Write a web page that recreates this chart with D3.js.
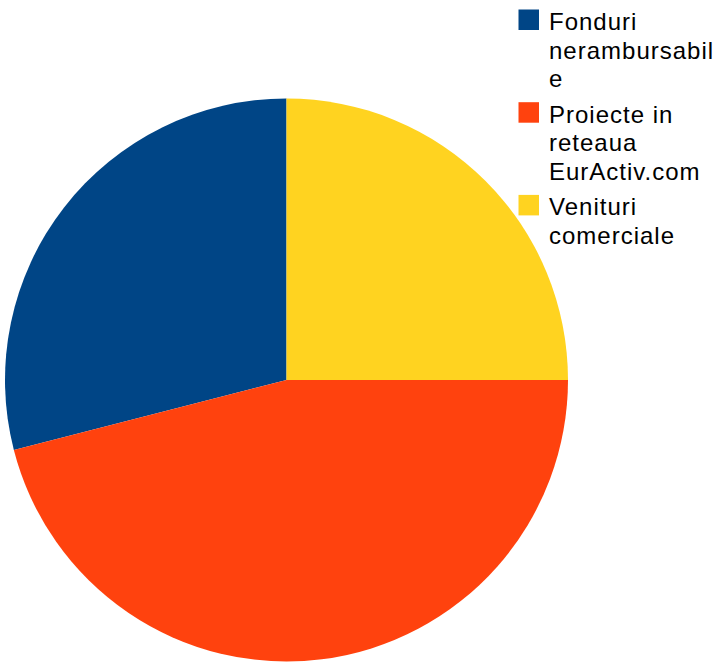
<!DOCTYPE html>
<html><head><meta charset="utf-8">
<script src="https://cdn.jsdelivr.net/npm/d3@7"></script>
<style>body{margin:0;background:#fff}</style>
</head><body>
<svg id="c" width="725" height="664"></svg>
<script>
const categories = ["Fonduri nerambursabile", "Proiecte in reteaua EurActiv.com", "Venituri comerciale"];
const values = [29, 46, 25];
const legendLines = [["Fonduri", "nerambursabil", "e"], ["Proiecte in", "reteaua", "EurActiv.com"], ["Venituri", "comerciale"]];
const colors = ["#004586", "#ff420e", "#ffd320"];

const svg = d3.select("#c");
const cx = 286.5, cy = 380, r = 281.5;
const pie = d3.pie().sort(null).startAngle(0).endAngle(-2 * Math.PI);
const arc = d3.arc().innerRadius(0).outerRadius(r);
const color = d3.scaleOrdinal().domain(categories).range(colors);

svg.append("g").attr("transform", `translate(${cx},${cy})`)
  .selectAll("path").data(pie(values)).join("path")
  .attr("d", arc).attr("fill", (d, i) => color(categories[i]));

const lg = svg.append("g").attr("font-family", "Liberation Sans, Arial, sans-serif")
  .attr("font-size", 24).attr("letter-spacing", 1).attr("fill", "#000");
const lineH = 28.7, groupGap = 6.6, sq = 20.5;
let y = 9.5;
legendLines.forEach((lines, i) => {
  lg.append("rect").attr("x", 518.5).attr("y", y).attr("width", sq).attr("height", sq).attr("fill", color(categories[i]));
  lines.forEach((t, j) => {
    lg.append("text").attr("x", 549).attr("y", y + sq + j * lineH).text(t);
  });
  y += lines.length * lineH + groupGap;
});
</script>
</body></html>
